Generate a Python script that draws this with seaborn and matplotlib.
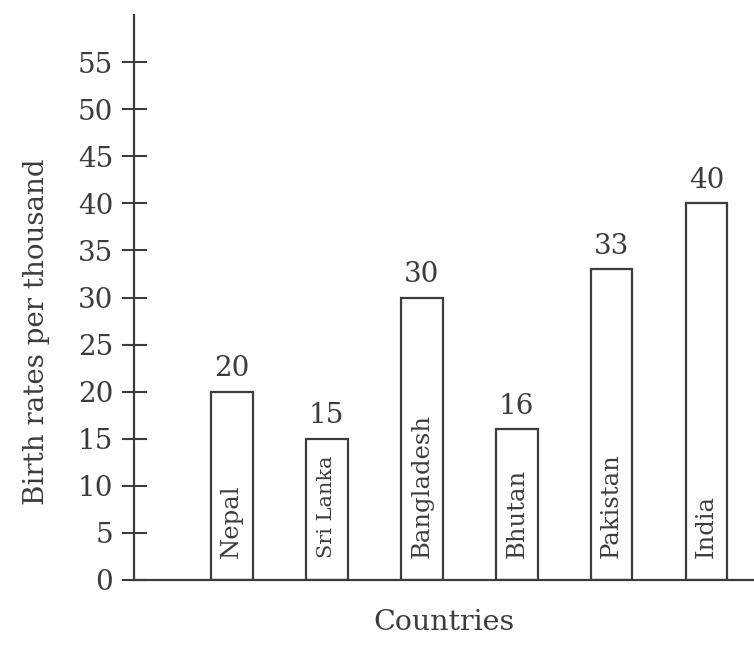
import matplotlib
matplotlib.use("Agg")
import matplotlib.pyplot as plt
import seaborn as sns
import pandas as pd

countries = ["Nepal", "Sri Lanka", "Bangladesh", "Bhutan", "Pakistan", "India"]
birth_rates = [20, 15, 30, 16, 33, 40]
yticks = [0, 5, 10, 15, 20, 25, 30, 35, 40, 45, 50, 55]

sns.set_theme(style="white")
plt.rcParams['font.family'] = ['DejaVu Serif']

ink = "#3c3c3c"
df = pd.DataFrame({"country": countries, "rate": birth_rates})

fig = plt.figure(figsize=(7.54, 6.45), dpi=100)
ax = fig.add_axes([0.1777, 0.1008, 0.8223, 0.8759])
sns.barplot(data=df, x="country", y="rate", ax=ax, color="white",
            edgecolor=ink, linewidth=1.6, width=0.44)

ax.set_xlim(-1.03, 5.5)
ax.set_ylim(0, 60)
ax.set_yticks(yticks)
ax.tick_params(axis="y", direction="inout", length=18, width=1.5, color=ink,
               labelsize=20, labelcolor=ink, pad=6, left=True)
ax.tick_params(axis="x", bottom=False, labelbottom=False)
for s in ["top", "right"]:
    ax.spines[s].set_visible(False)
for s in ["left", "bottom"]:
    ax.spines[s].set_color(ink)
    ax.spines[s].set_linewidth(1.6)

ax.bar_label(ax.containers[0], labels=[str(v) for v in birth_rates],
             padding=7, fontsize=20, color=ink)
inbar_sizes = {"Sri Lanka": 15}
for i, name in enumerate(countries):
    ax.annotate(name, xy=(i, 0), xytext=(0, 16), textcoords="offset points",
                rotation=90, ha="center", va="bottom",
                fontsize=inbar_sizes.get(name, 17.5), color=ink)

ax.set_xlabel("Countries", fontsize=20.5, color=ink)
ax.set_ylabel("Birth rates per thousand", fontsize=20, color=ink)
ax.xaxis.set_label_coords(0.5, -0.052)
ax.yaxis.set_label_coords(-0.1355, 0.439)

fig.savefig("out.png", dpi=100)
